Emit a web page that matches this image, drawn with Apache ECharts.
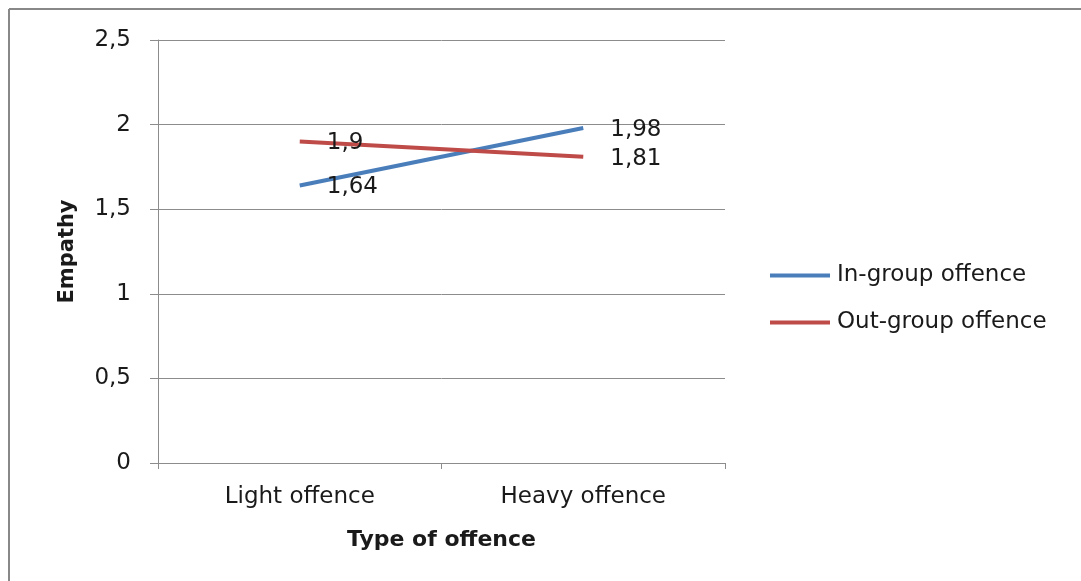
<!DOCTYPE html>
<html>
<head>
<meta charset="utf-8">
<script src="https://cdn.jsdelivr.net/npm/echarts@6/dist/echarts.min.js"></script>
<style>
  html, body { margin: 0; padding: 0; background: #fff; }
  #chart { width: 1081px; height: 581px; }
</style>
</head>
<body>
<div id="chart"></div>
<script>
// Empathy by type of offence, split by group membership of the offender
const categories = ['Light offence', 'Heavy offence'];
const inGroup = [1.64, 1.98];
const outGroup = [1.9, 1.81];
const seriesNames = ['In-group offence', 'Out-group offence'];

const commaNum = v => String(v).replace('.', ',');
const FONT = "'DejaVu Sans', 'Noto Sans', sans-serif";

const chart = echarts.init(document.getElementById('chart'), null, { renderer: 'canvas' });

const labelCfg = {
  show: true,
  position: 'right',
  distance: 27,
  fontFamily: FONT,
  fontSize: 23,
  color: '#1a1a1a',
  formatter: p => commaNum(p.value)
};

chart.setOption({
  animation: false,
  backgroundColor: '#fff',
  graphic: [
    { type: 'line', shape: { x1: 9, y1: 9, x2: 1081, y2: 9 }, style: { stroke: '#888', lineWidth: 2 } },
    { type: 'line', shape: { x1: 9, y1: 9, x2: 9, y2: 581 }, style: { stroke: '#888', lineWidth: 2 } }
  ],
  grid: { left: 158, right: 356, top: 40, bottom: 118, containLabel: false },
  legend: {
    orient: 'vertical',
    left: 765,
    top: 259,
    itemGap: 24,
    itemWidth: 60,
    itemHeight: 4,
    icon: 'rect',
    textStyle: { fontFamily: FONT, fontSize: 23, color: '#1a1a1a', padding: [0, 0, 0, 2] },
    data: seriesNames
  },
  xAxis: {
    type: 'category',
    data: categories,
    boundaryGap: true,
    name: 'Type of offence',
    nameLocation: 'middle',
    nameGap: 66,
    nameTextStyle: { fontFamily: FONT, fontWeight: 'bold', fontSize: 22, color: '#1a1a1a' },
    axisLine: { lineStyle: { color: '#8c8c8c', width: 1 } },
    axisTick: { show: true, length: 6, lineStyle: { color: '#8c8c8c' } },
    axisLabel: { fontFamily: FONT, fontSize: 23, color: '#1a1a1a', margin: 23 }
  },
  yAxis: {
    type: 'value',
    min: 0,
    max: 2.5,
    interval: 0.5,
    name: 'Empathy',
    nameLocation: 'middle',
    nameRotate: 90,
    nameGap: 80,
    nameTextStyle: { fontFamily: FONT, fontWeight: 'bold', fontSize: 21, color: '#1a1a1a' },
    axisLine: { show: true, lineStyle: { color: '#8c8c8c', width: 1 } },
    axisTick: { show: true, length: 8, lineStyle: { color: '#8c8c8c' } },
    splitLine: { show: true, lineStyle: { color: '#8c8c8c', width: 1 } },
    axisLabel: { fontFamily: FONT, fontSize: 23, color: '#1a1a1a', margin: 27, formatter: v => commaNum(v) }
  },
  series: [
    {
      name: seriesNames[0],
      type: 'line',
      data: inGroup,
      symbol: 'circle',
      symbolSize: 0,
      showSymbol: true,
      lineStyle: { color: '#4a7ebb', width: 4 },
      itemStyle: { color: '#4a7ebb' },
      label: Object.assign({}, labelCfg, { offset: [0, 2] })
    },
    {
      name: seriesNames[1],
      type: 'line',
      data: outGroup,
      symbol: 'circle',
      symbolSize: 0,
      showSymbol: true,
      lineStyle: { color: '#be4b48', width: 4 },
      itemStyle: { color: '#be4b48' },
      label: Object.assign({}, labelCfg, { offset: [0, 2] })
    }
  ]
});
</script>
</body>
</html>
